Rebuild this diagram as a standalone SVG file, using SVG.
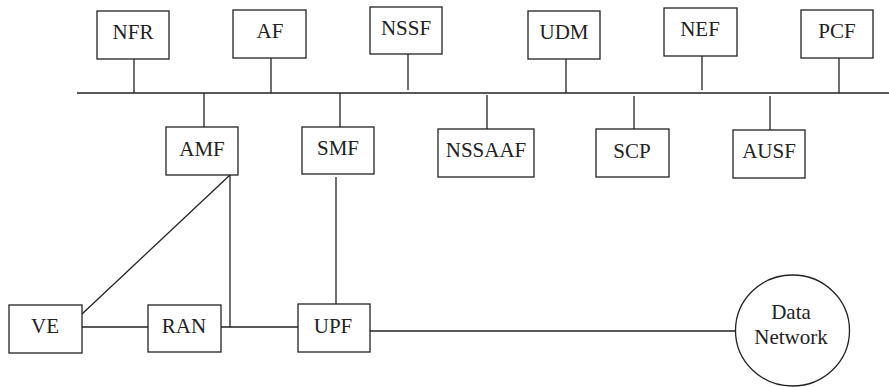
<svg xmlns="http://www.w3.org/2000/svg" width="889" height="387" viewBox="0 0 889 387">
  <style>
    .box { fill: #fff; stroke: #222; stroke-width: 1.3; }
    .lbl { font-family: 'Liberation Serif', 'DejaVu Serif', 'Times New Roman', Times, serif; font-size: 21px; fill: #222; text-anchor: middle; }
    .wire { stroke: #222; stroke-width: 1.3; fill: none; }
  </style>
  <rect width="889" height="387" fill="#fff"/>

  <!-- connectors: service bus, stems and user-plane links -->
  <g id="connectors">
    <line class="wire" x1="77" y1="93" x2="889" y2="93"/>
    <!-- upper stems -->
    <line class="wire" x1="134" y1="59" x2="134" y2="93"/>
    <line class="wire" x1="271" y1="58" x2="271" y2="93"/>
    <line class="wire" x1="408" y1="54" x2="408" y2="90"/>
    <line class="wire" x1="566" y1="59" x2="566" y2="93"/>
    <line class="wire" x1="702" y1="56" x2="702" y2="90"/>
    <line class="wire" x1="839" y1="58" x2="839" y2="93"/>
    <!-- lower stems -->
    <line class="wire" x1="204" y1="93" x2="204" y2="127"/>
    <line class="wire" x1="340" y1="93" x2="340" y2="127"/>
    <line class="wire" x1="487" y1="95" x2="487" y2="129"/>
    <line class="wire" x1="634" y1="96" x2="634" y2="129"/>
    <line class="wire" x1="770" y1="96" x2="770" y2="130"/>
    <!-- AMF links -->
    <line class="wire" x1="230" y1="175" x2="82" y2="314"/>
    <line class="wire" x1="230" y1="175" x2="230" y2="327"/>
    <!-- SMF to UPF -->
    <line class="wire" x1="336" y1="177" x2="336" y2="304"/>
    <!-- access chain -->
    <line class="wire" x1="82" y1="327" x2="148" y2="327"/>
    <line class="wire" x1="221" y1="327" x2="298" y2="327"/>
    <line class="wire" x1="370" y1="331" x2="735" y2="331"/>
  </g>

  <g id="NFR"><rect class="box" x="97" y="11" width="72" height="48"/><text class="lbl" x="133" y="39">NFR</text></g>
  <g id="AF"><rect class="box" x="233" y="10" width="73" height="48"/><text class="lbl" x="270" y="38">AF</text></g>
  <g id="NSSF"><rect class="box" x="370" y="7" width="72" height="47"/><text class="lbl" x="406" y="35">NSSF</text></g>
  <g id="UDM"><rect class="box" x="528" y="11" width="72" height="48"/><text class="lbl" x="564" y="39">UDM</text></g>
  <g id="NEF"><rect class="box" x="664" y="8" width="73" height="48"/><text class="lbl" x="700" y="36">NEF</text></g>
  <g id="PCF"><rect class="box" x="801" y="10" width="72" height="48"/><text class="lbl" x="837" y="38">PCF</text></g>

  <g id="AMF"><rect class="box" x="166" y="127" width="72" height="48"/><text class="lbl" x="202" y="156">AMF</text></g>
  <g id="SMF"><rect class="box" x="302" y="127" width="72" height="47"/><text class="lbl" x="338" y="155">SMF</text></g>
  <g id="NSSAAF"><rect class="box" x="438" y="129" width="96" height="48"/><text class="lbl" x="486" y="157">NSSAAF</text></g>
  <g id="SCP"><rect class="box" x="596" y="129" width="73" height="48"/><text class="lbl" x="632" y="158">SCP</text></g>
  <g id="AUSF"><rect class="box" x="733" y="130" width="72" height="48"/><text class="lbl" x="769" y="158">AUSF</text></g>

  <g id="VE"><rect class="box" x="9" y="305" width="73" height="48"/><text class="lbl" x="45" y="333">VE</text></g>
  <g id="RAN"><rect class="box" x="148" y="305" width="73" height="47"/><text class="lbl" x="184" y="333">RAN</text></g>
  <g id="UPF"><rect class="box" x="298" y="304" width="72" height="48"/><text class="lbl" x="333" y="333">UPF</text></g>

  <g id="DataNetwork">
    <ellipse class="box" cx="792.5" cy="330.5" rx="57" ry="55.5"/>
    <text class="lbl" x="791" y="319">Data</text>
    <text class="lbl" x="791" y="344">Network</text>
  </g>
</svg>
